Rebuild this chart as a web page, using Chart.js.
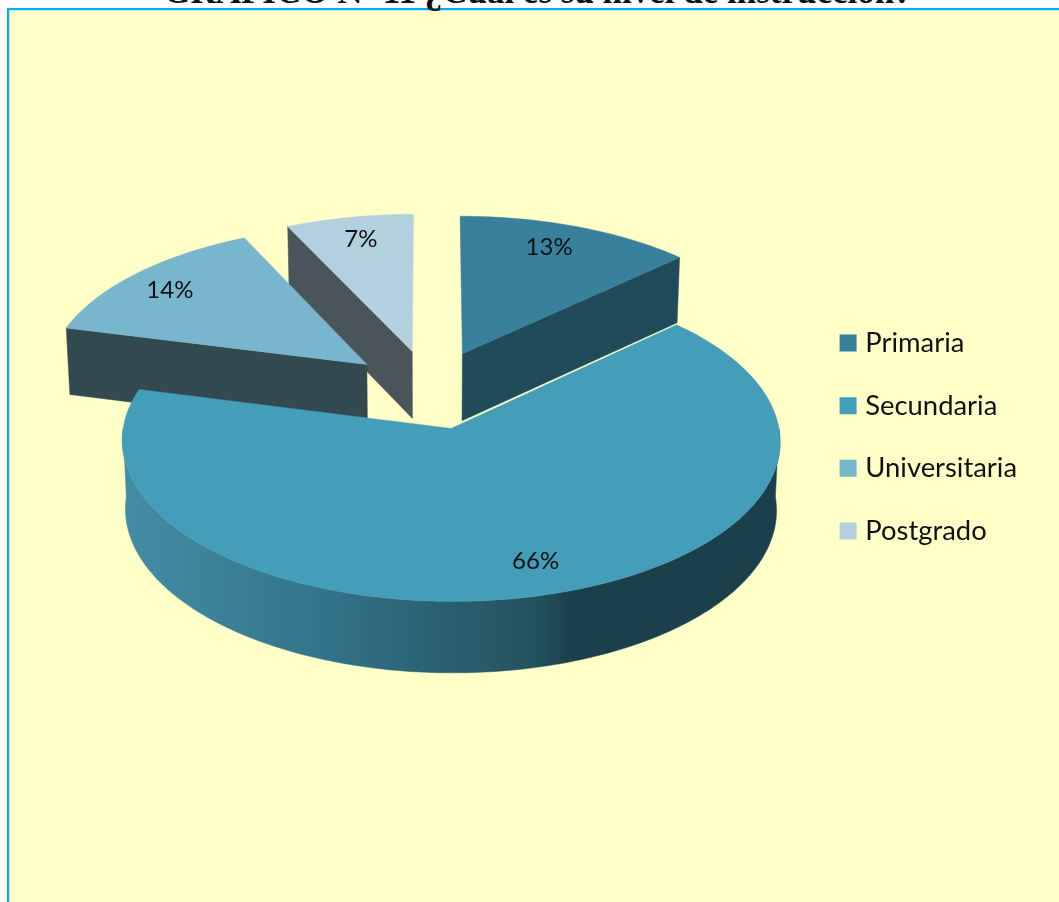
<!DOCTYPE html>
<html lang="es">
<head>
<meta charset="utf-8">
<title>Nivel de instrucción</title>
<script src="https://cdn.jsdelivr.net/npm/chart.js@4/dist/chart.umd.min.js"></script>
<style>
  html, body { margin: 0; padding: 0; background: #fff; overflow: hidden; }
  #page { position: relative; width: 1059px; height: 902px; overflow: hidden; }
  #frame {
    position: absolute; left: 7px; top: 8px; width: 1100px; height: 1000px;
    background: #ffffc8; border: 2px solid #00b0f0; box-shadow: inset 1px 1px 0 #bfeef0;
  }
  #title {
    position: absolute; left: 8px; width: 1059px; top: -28px; margin: 0; text-align: center;
    font: bold 35px "Liberation Serif", serif; color: #111; white-space: nowrap;
  }
  #pie { position: absolute; left: 0; top: 0; }
</style>
</head>
<body>
<div id="page">
  <div id="frame"></div>
  <h1 id="title">GRÁFICO Nº 11 ¿Cuál es su nivel de instrucción?</h1>
  <canvas id="pie" width="1059" height="902"></canvas>
</div>
<script>
'use strict';

// ******** CHART DATA **************
let categories = ['Primaria', 'Secundaria', 'Universitaria', 'Postgrado'];
let percentages = [13, 66, 14, 7];

// ******** STYLES **************
let topColors = ['#38809b', '#459eb9', '#78b6ce', '#b3d0de'];
let wallColors = ['#204b5a', '#2b6273', '#31494f', '#4a555b'];
let curvedWallStops = [[0, '#438da4'], [0.3, '#33748a'], [0.63, '#24515f'], [0.68, '#1b404c'], [1, '#1b404c']];
let labelNudges = [[-11, 1], [10, -6], [-2, 3], [2, 2]];

// ******** 3D VIEW SETTINGS **************
let viewX = 430;
let viewY = 389.3;
let tilt = 0.4767;
let perspective = 0.00024;
let wallHeight = 67.7;
let wallGrowth = 0.53;
let wallInset = 0.99;
let pieRadius = 321.5;
let explode = 83;
let labelReach = 0.84;

// world point on the pie plane -> screen point, depth 0 is the top face, 1 the bottom
function project(x, y, depth) {
  let scale = 1 / (1 - perspective * y);
  let inset = depth ? wallInset : 1;
  return {
    x: viewX + x * scale * inset,
    y: viewY + tilt * y * scale + depth * wallHeight * (1 + wallGrowth * (scale - 1))
  };
}

function arcPoints(arc, from, to, depth) {
  let mid = (arc.startAngle + arc.endAngle) / 2;
  let ox = Math.cos(mid) * arc.options.offset;
  let oy = Math.sin(mid) * arc.options.offset;
  let points = [];
  let steps = Math.max(2, Math.ceil((to - from) * 60));
  for (let i = 0; i <= steps; i++) {
    let angle = from + (to - from) * i / steps;
    points.push(project(ox + Math.cos(angle) * arc.outerRadius, oy + Math.sin(angle) * arc.outerRadius, depth));
  }
  return points;
}

function apexPoint(arc, depth) {
  let mid = (arc.startAngle + arc.endAngle) / 2;
  return project(Math.cos(mid) * arc.options.offset, Math.sin(mid) * arc.options.offset, depth);
}

function fillPolygon(ctx, points, fill) {
  ctx.beginPath();
  points.forEach((p, i) => (i ? ctx.lineTo(p.x, p.y) : ctx.moveTo(p.x, p.y)));
  ctx.closePath();
  ctx.fillStyle = fill;
  ctx.fill();
  ctx.strokeStyle = fill;
  ctx.lineWidth = 0.5;
  ctx.stroke();
}

function drawCutFace(ctx, arc, angle, fill) {
  let edgeTop = arcPoints(arc, angle, angle, 0)[0];
  let edgeBottom = arcPoints(arc, angle, angle, 1)[0];
  fillPolygon(ctx, [apexPoint(arc, 0), edgeTop, edgeBottom, apexPoint(arc, 1)], fill);
}

function drawCurvedWall(ctx, arc) {
  // only the part of the rim that faces the viewer
  let from = Math.max(arc.startAngle, 0);
  let to = Math.min(arc.endAngle, Math.PI);
  if (to <= from) {
    return;
  }
  let top = arcPoints(arc, from, to, 0);
  let bottom = arcPoints(arc, from, to, 1).reverse();
  let xs = top.map(p => p.x);
  let gradient = ctx.createLinearGradient(Math.min(...xs), 0, Math.max(...xs), 0);
  curvedWallStops.forEach(stop => gradient.addColorStop(stop[0], stop[1]));
  fillPolygon(ctx, top.concat(bottom), gradient);
}

// Draws the exploded 3D slices from the angles the doughnut controller worked out
let pie3dPlugin = {
  id: 'pie3d',
  beforeDatasetsDraw(chart) {
    let ctx = chart.ctx;
    let arcs = chart.getDatasetMeta(0).data;
    let order = arcs.map((arc, i) => i).sort((a, b) => {
      let midA = (arcs[a].startAngle + arcs[a].endAngle) / 2;
      let midB = (arcs[b].startAngle + arcs[b].endAngle) / 2;
      return Math.sin(midA) - Math.sin(midB);
    });

    order.forEach(i => {
      let arc = arcs[i];
      if (Math.cos(arc.startAngle) < -0.001) {
        drawCutFace(ctx, arc, arc.startAngle, wallColors[i]);
      }
      if (Math.cos(arc.endAngle) > 0.001) {
        drawCutFace(ctx, arc, arc.endAngle, wallColors[i]);
      }
      drawCurvedWall(ctx, arc);
      let face = [apexPoint(arc, 0)].concat(arcPoints(arc, arc.startAngle, arc.endAngle, 0));
      fillPolygon(ctx, face, arc.options.backgroundColor);
    });

    // value labels sit on each slice's middle line
    ctx.fillStyle = '#111';
    ctx.font = '24px Lato';
    ctx.textAlign = 'center';
    ctx.textBaseline = 'middle';
    arcs.forEach((arc, i) => {
      let mid = (arc.startAngle + arc.endAngle) / 2;
      let reach = arc.outerRadius * labelReach + arc.options.offset;
      let spot = project(Math.cos(mid) * reach, Math.sin(mid) * reach, 0);
      ctx.fillText(`${percentages[i]}%`, spot.x + labelNudges[i][0], spot.y + labelNudges[i][1]);
    });
    return false;
  }
};

new Chart(document.getElementById('pie'), {
  type: 'pie',
  data: {
    labels: categories,
    datasets: [{
      data: percentages,
      backgroundColor: topColors,
      borderWidth: 0,
      offset: explode
    }]
  },
  options: {
    responsive: false,
    animation: false,
    radius: pieRadius,
    layout: { padding: { bottom: 28, right: 32 } },
    plugins: {
      tooltip: { enabled: false },
      legend: {
        position: 'right',
        labels: {
          usePointStyle: true,
          pointStyle: 'rect',
          boxWidth: 7,
          boxHeight: 17,
          padding: 35.2,
          color: '#111',
          font: { family: 'Lato', size: 27.4 }
        }
      }
    }
  },
  plugins: [pie3dPlugin]
});
</script>
</body>
</html>
